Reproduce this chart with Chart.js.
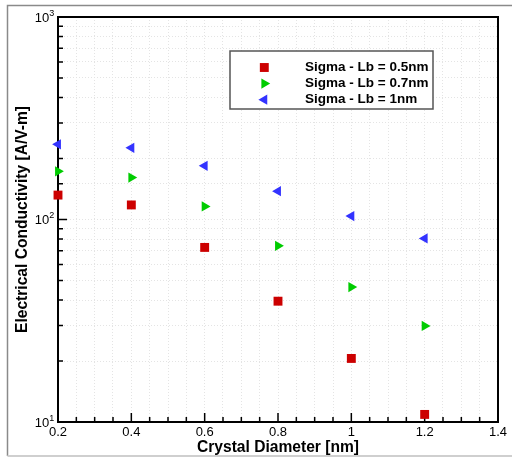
<!DOCTYPE html>
<html>
<head>
<meta charset="utf-8">
<script src="https://cdn.jsdelivr.net/npm/chart.js@4/dist/chart.umd.min.js"></script>
<style>
html,body{margin:0;padding:0;background:#fff;}
canvas{display:block;}
</style>
</head>
<body>
<canvas id="c" width="512" height="457"></canvas>
<script>
// ---- data ----
const crystalDiameter = [0.2, 0.4, 0.6, 0.8, 1.0, 1.2];
const sigmaLb05 = [132, 118, 72.8, 39.5, 20.6, 10.9];
const sigmaLb07 = [173, 161, 116, 74.1, 46.4, 29.8];
const sigmaLb1  = [235, 226, 184, 138, 104, 80.6];
const seriesLabels = ['Sigma - Lb = 0.5nm', 'Sigma - Lb = 0.7nm', 'Sigma - Lb = 1nm'];
const xMajorTicks = [0.2, 0.4, 0.6, 0.8, 1.0, 1.2, 1.4];
const xTickLabels = ['0.2', '0.4', '0.6', '0.8', '1', '1.2', '1.4'];
const yMajorTicks = [10, 100, 1000];
const yTickBase = '10';
const yTickExponents = ['1', '2', '3'];
const xTitle = 'Crystal Diameter [nm]';
const yTitle = 'Electrical Conductivity [A/V-m]';

const FONT = "'Liberation Sans', Arial, Helvetica, sans-serif";
const colors = ['#cc0000', '#00cc00', '#3333ff'];
const styles = [
  {pointStyle: 'rect', rotation: 0, radius: 6.3},
  {pointStyle: 'triangle', rotation: 90, radius: 5.9},
  {pointStyle: 'triangle', rotation: -90, radius: 5.9}
];
const seriesValues = [sigmaLb05, sigmaLb07, sigmaLb1];

function pts(vals) { return crystalDiameter.map((x, i) => ({x: x, y: vals[i]})); }

function isMajorX(v) { return xMajorTicks.some(m => Math.abs(m - v) < 1e-6); }
function isMajorY(v) { return yMajorTicks.some(m => Math.abs(m - v) < 1e-6); }

function drawMarker(ctx, style, x, y, color) {
  const r = style.radius;
  ctx.save();
  ctx.fillStyle = color;
  ctx.beginPath();
  if (style.pointStyle === 'rect') {
    const s = Math.SQRT1_2 * r;
    ctx.rect(x - s, y - s, 2 * s, 2 * s);
  } else {
    let rad = style.rotation * Math.PI / 180;
    ctx.moveTo(x + Math.sin(rad) * r, y - Math.cos(rad) * r);
    rad += 2 * Math.PI / 3;
    ctx.lineTo(x + Math.sin(rad) * r, y - Math.cos(rad) * r);
    rad += 2 * Math.PI / 3;
    ctx.lineTo(x + Math.sin(rad) * r, y - Math.cos(rad) * r);
    ctx.closePath();
  }
  ctx.fill();
  ctx.restore();
}

const decorPlugin = {
  id: 'decor',
  beforeDraw(chart) {
    const ctx = chart.ctx;
    ctx.save();
    ctx.fillStyle = '#fff';
    ctx.fillRect(0, 0, chart.width, chart.height);
    // outer frame
    ctx.lineWidth = 1.5;
    ctx.strokeStyle = '#8a8a8a';
    ctx.beginPath();
    ctx.moveTo(7.5, 456);
    ctx.lineTo(7.5, 5.5);
    ctx.lineTo(chart.width, 5.5);
    ctx.stroke();
    ctx.strokeStyle = '#cfcfcf';
    ctx.lineWidth = 2;
    ctx.beginPath();
    ctx.moveTo(7.5, 456);
    ctx.lineTo(chart.width, 456);
    ctx.stroke();
    ctx.restore();
  },
  beforeDatasetsDraw(chart) {
    const ctx = chart.ctx;
    const a = chart.chartArea;
    const xs = chart.scales.x, ys = chart.scales.y;
    ctx.save();
    // inward tick marks
    ctx.strokeStyle = '#000';
    ctx.lineWidth = 1.5;
    ctx.beginPath();
    xs.ticks.forEach(t => {
      const px = xs.getPixelForValue(t.value);
      const len = isMajorX(t.value) ? 9 : 5;
      ctx.moveTo(px, a.bottom);
      ctx.lineTo(px, a.bottom - len);
    });
    ys.ticks.forEach(t => {
      const py = ys.getPixelForValue(t.value);
      const len = isMajorY(t.value) ? 9 : 5;
      ctx.moveTo(a.left, py);
      ctx.lineTo(a.left + len, py);
    });
    ctx.stroke();
    // plot frame
    ctx.lineWidth = 2;
    ctx.strokeRect(a.left, a.top, a.right - a.left, a.bottom - a.top);
    // y tick labels: base with raised exponent
    ctx.fillStyle = '#000';
    yMajorTicks.forEach((v, i) => {
      const py = ys.getPixelForValue(v);
      ctx.font = '9px ' + FONT;
      ctx.textAlign = 'left';
      ctx.textBaseline = 'alphabetic';
      ctx.fillText(yTickExponents[i], 49.3, py - 1.5);
      ctx.font = '13px ' + FONT;
      ctx.textAlign = 'right';
      ctx.fillText(yTickBase, 49.3, py + 4.7);
    });
    // axis titles
    ctx.font = 'bold 15.6px ' + FONT;
    ctx.textAlign = 'center';
    ctx.textBaseline = 'alphabetic';
    ctx.fillText(xTitle, (a.left + a.right) / 2, 452);
    ctx.save();
    ctx.translate(26.5, (a.top + a.bottom) / 2);
    ctx.rotate(-Math.PI / 2);
    ctx.fillText(yTitle, 0, 0);
    ctx.restore();
    ctx.restore();
  },
  afterDatasetsDraw(chart) {
    const ctx = chart.ctx;
    ctx.save();
    // legend box
    const bx = 230, by = 51, bw = 203, bh = 58;
    ctx.fillStyle = '#fff';
    ctx.fillRect(bx, by, bw, bh);
    ctx.strokeStyle = '#555';
    ctx.lineWidth = 1.5;
    ctx.strokeRect(bx, by, bw, bh);
    ctx.font = 'bold 13.5px ' + FONT;
    ctx.textAlign = 'left';
    ctx.textBaseline = 'alphabetic';
    chart.data.datasets.forEach((ds, i) => {
      const cy = 67.5 + i * 16.1;
      drawMarker(ctx, styles[i], 264.3, cy, colors[i]);
      ctx.fillStyle = '#000';
      ctx.fillText(ds.label, 305, cy + 3.6);
    });
    ctx.restore();
  }
};

new Chart(document.getElementById('c'), {
  type: 'scatter',
  data: {
    datasets: seriesValues.map((vals, i) => ({
      label: seriesLabels[i],
      data: pts(vals),
      backgroundColor: colors[i],
      borderColor: colors[i],
      borderWidth: 0,
      pointStyle: styles[i].pointStyle,
      rotation: styles[i].rotation,
      pointRadius: styles[i].radius,
      pointHoverRadius: styles[i].radius,
      clip: false
    }))
  },
  options: {
    responsive: false,
    animation: false,
    devicePixelRatio: 1,
    layout: {padding: {left: 0, top: 17, right: 14, bottom: 0}},
    plugins: {legend: {display: false}, tooltip: {enabled: false}},
    scales: {
      x: {
        type: 'linear',
        min: 0.2, max: 1.4,
        afterFit: s => { s.height = 35; },
        ticks: {
          stepSize: 0.05,
          autoSkip: false,
          maxRotation: 0,
          padding: 3,
          color: '#000',
          font: {family: FONT, size: 13},
          callback: v => {
            const idx = xMajorTicks.findIndex(m => Math.abs(m - v) < 1e-6);
            return idx >= 0 ? xTickLabels[idx] : '';
          }
        },
        grid: {color: '#e4e4e4', lineWidth: 1, drawTicks: false},
        border: {display: false, dash: [1, 2]}
      },
      y: {
        type: 'logarithmic',
        min: 10, max: 1000,
        afterFit: s => { s.width = 58; },
        ticks: {
          autoSkip: false,
          padding: 5,
          display: false
        },
        grid: {color: '#e4e4e4', lineWidth: 1, drawTicks: false},
        border: {display: false, dash: [1, 2]}
      }
    }
  },
  plugins: [decorPlugin]
});
</script>
</body>
</html>
